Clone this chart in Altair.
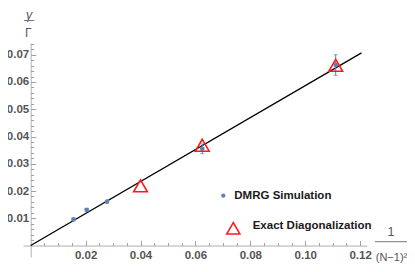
import altair as alt
import pandas as pd

# ---- data ----
dmrg_x = [0.0156, 0.0204, 0.0278, 0.0625, 0.1111]
dmrg_y = [0.0096, 0.0131, 0.0161, 0.0355, 0.0662]
dmrg_err = [0.0004, 0.0005, 0.0004, 0.0018, 0.0038]

ed_x = [0.04, 0.0625, 0.1111]
ed_y = [0.0219, 0.0368, 0.0661]

fit_x = [0.0, 0.1205]
fit_y = [0.0, 0.0707]

x_major = [0.02, 0.04, 0.06, 0.08, 0.10, 0.12]
y_major = [0.01, 0.02, 0.03, 0.04, 0.05, 0.06, 0.07]
x_minor = [round(0.005 * i, 3) for i in range(1, 25)]
y_minor = [round(0.002 * i, 3) for i in range(1, 38)]

legend_labels = ["DMRG Simulation", "Exact Diagonalization"]

# ---- layout ----
W, H = 344, 214
XDOM = [-0.0028, 0.1225]
YDOM = [-0.0042, 0.0743]
x0_px = W * (0 - XDOM[0]) / (XDOM[1] - XDOM[0])
y0_px = H * (YDOM[1] - 0) / (YDOM[1] - YDOM[0])

BLUE = "#5e81b5"
RED = "#ff1a1a"
LABEL = "#555555"
FONT = "Liberation Sans"

dmrg = pd.DataFrame({
    "x": dmrg_x, "y": dmrg_y,
    "lo": [a - b for a, b in zip(dmrg_y, dmrg_err)],
    "hi": [a + b for a, b in zip(dmrg_y, dmrg_err)],
})
ed = pd.DataFrame({"x": ed_x, "y": ed_y})
fit = pd.DataFrame({"x": fit_x, "y": fit_y})

xs = alt.Scale(domain=XDOM, nice=False, zero=False)
ys = alt.Scale(domain=YDOM, nice=False, zero=False)

axis_x_lab = alt.Axis(orient="bottom", offset=-(H - y0_px), values=x_major, format=".2f",
                      ticks=False, grid=False, title=None, domainColor="#b0b0b0",
                      labelFont=FONT, labelFontWeight="bold", labelFontSize=11.5,
                      labelColor=LABEL, labelPadding=4)
axis_y_lab = alt.Axis(orient="left", offset=-x0_px, values=y_major, format=".2f",
                      ticks=False, grid=False, title=None, domainColor="#b0b0b0",
                      labelFont=FONT, labelFontWeight="bold", labelFontSize=11.5,
                      labelColor=LABEL, labelPadding=2)
axis_x_tick = alt.Axis(orient="top", offset=-y0_px, values=x_minor, labels=False,
                       domain=False, grid=False, title=None, tickColor="#a0a0a0",
                       tickSize={"condition": {"test": "abs(datum.value*50 - round(datum.value*50)) < 0.001", "value": 5}, "value": 3})
axis_y_tick = alt.Axis(orient="right", offset=-(W - x0_px), values=y_minor, labels=False,
                       domain=False, grid=False, title=None, tickColor="#a0a0a0",
                       tickSize={"condition": {"test": "abs(datum.value*100 - round(datum.value*100)) < 0.001", "value": 5}, "value": 3})

line = alt.Chart(fit).mark_line(color="black", strokeWidth=1.3).encode(
    x=alt.X("x:Q", scale=xs, axis=axis_x_lab),
    y=alt.Y("y:Q", scale=ys, axis=axis_y_lab),
)
bars = alt.Chart(dmrg).mark_rule(color=BLUE, strokeWidth=1).encode(
    x=alt.X("x:Q", scale=xs, axis=axis_x_tick),
    y=alt.Y("lo:Q", scale=ys, axis=axis_y_tick),
    y2="hi:Q",
)
cap_lo = alt.Chart(dmrg).mark_tick(color=BLUE, orient="horizontal", size=4, thickness=1).encode(
    x=alt.X("x:Q", scale=xs, axis=None), y=alt.Y("lo:Q", scale=ys, axis=None))
cap_hi = alt.Chart(dmrg).mark_tick(color=BLUE, orient="horizontal", size=4, thickness=1).encode(
    x=alt.X("x:Q", scale=xs, axis=None), y=alt.Y("hi:Q", scale=ys, axis=None))
pts = alt.Chart(dmrg).mark_point(shape="circle", filled=True, color=BLUE, size=22, opacity=1).encode(
    x=alt.X("x:Q", scale=xs, axis=None), y=alt.Y("y:Q", scale=ys, axis=None))
tri = alt.Chart(ed).mark_point(shape="triangle-up", filled=False, color=RED, size=190,
                               strokeWidth=1.6, opacity=1).encode(
    x=alt.X("x:Q", scale=xs, axis=None), y=alt.Y("y:Q", scale=ys, axis=None))

def txt(s, x, y, size=12, weight="normal", style="normal", color=LABEL, align="center"):
    return alt.Chart(pd.DataFrame({"t": [s]})).mark_text(
        font=FONT, fontSize=size, fontWeight=weight, fontStyle=style, color=color,
        align=align, baseline="middle").encode(
        text="t:N", x=alt.value(x), y=alt.value(y))

def hbar(x1, x2, y, color="#777777"):
    return alt.Chart(pd.DataFrame({"a": [0]})).mark_rule(color=color, strokeWidth=1).encode(
        x=alt.value(x1), x2=alt.value(x2), y=alt.value(y))

# legend
leg_dot = alt.Chart(pd.DataFrame({"a": [0]})).mark_point(shape="circle", filled=True, color=BLUE,
                                                         size=18, opacity=1).encode(
    x=alt.value(200.3), y=alt.value(152.7))
leg_tri = alt.Chart(pd.DataFrame({"a": [0]})).mark_point(shape="triangle-up", filled=False, color=RED,
                                                         size=170, strokeWidth=1.6, opacity=1).encode(
    x=alt.value(210.3), y=alt.value(185.3))
leg_t1 = txt(legend_labels[0], 211.3, 152.7, size=11.5, weight="bold", color="#1a1a1a", align="left")
leg_t2 = txt(legend_labels[1], 229.7, 182.5, size=11.5, weight="bold", color="#1a1a1a", align="left")

# axis titles
yt1 = txt("γ", 6, -28, size=12.5, style="italic")
ybar = hbar(1, 11.3, -22.5)
yt2 = txt("Γ", 5.4, -10, size=12)
xt1 = txt("1", 368, 188.5, size=12.5)
xbar = hbar(352, 384, 198.7)
xt2 = txt("(N−1)²", 368.5, 214.5, size=11)

chart = alt.layer(
    line, bars, cap_lo, cap_hi, pts, tri,
    leg_dot, leg_tri, leg_t1, leg_t2,
    yt1, ybar, yt2, xt1, xbar, xt2,
).resolve_axis(x="independent", y="independent").properties(
    width=W, height=H,
    autosize=alt.AutoSizeParams(type="none"),
    padding={"left": 15, "top": 35, "right": 40, "bottom": 6},
).configure_view(stroke=None)

chart.save("out.html", embed_options={"renderer": "svg", "actions": False})
